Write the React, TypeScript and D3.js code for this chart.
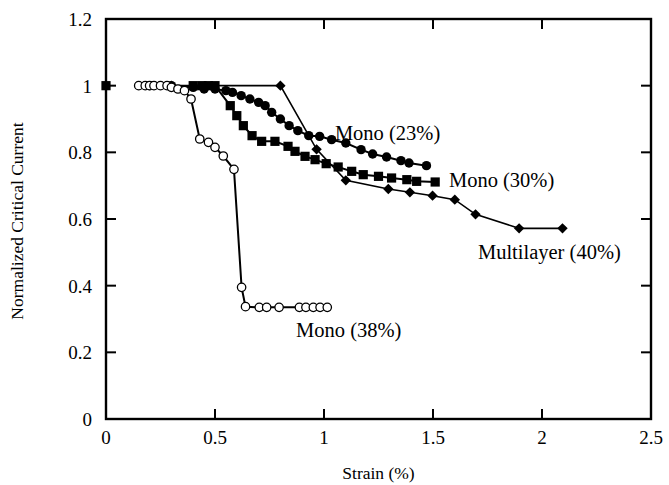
import React from "react";
import * as d3 from "d3";

const xTicks = [0, 0.5, 1, 1.5, 2, 2.5];
const yTicks = [0, 0.2, 0.4, 0.6, 0.8, 1, 1.2];
const xTickLabels = ["0", "0.5", "1", "1.5", "2", "2.5"];
const yTickLabels = ["0", "0.2", "0.4", "0.6", "0.8", "1", "1.2"];

const mono38X = [0.15, 0.18, 0.2, 0.22, 0.25, 0.28, 0.3, 0.33, 0.36, 0.39, 0.43, 0.47, 0.5, 0.538, 0.587, 0.622, 0.64, 0.703, 0.737, 0.794, 0.887, 0.917, 0.951, 0.982, 1.015];
const mono38Y = [1, 1, 1, 1, 1, 1, 0.995, 0.99, 0.985, 0.96, 0.84, 0.83, 0.815, 0.789, 0.749, 0.395, 0.337, 0.335, 0.335, 0.335, 0.335, 0.335, 0.335, 0.335, 0.335];

const mono23X = [0.2, 0.3, 0.4, 0.45, 0.5, 0.55, 0.58, 0.62, 0.66, 0.7, 0.73, 0.76, 0.8, 0.84, 0.88, 0.93, 0.98, 1.035, 1.1, 1.17, 1.223, 1.287, 1.353, 1.39, 1.47];
const mono23Y = [1, 1, 0.995, 0.99, 0.99, 0.985, 0.98, 0.97, 0.96, 0.95, 0.94, 0.92, 0.9, 0.88, 0.865, 0.85, 0.848, 0.838, 0.828, 0.808, 0.795, 0.786, 0.775, 0.768, 0.76];

const mono30X = [0.4, 0.44, 0.47, 0.5, 0.57, 0.6, 0.63, 0.67, 0.714, 0.775, 0.835, 0.867, 0.913, 0.959, 1.01, 1.065, 1.127, 1.18, 1.25, 1.31, 1.38, 1.425, 1.51];
const mono30Y = [1, 1, 1, 1, 0.94, 0.91, 0.88, 0.85, 0.833, 0.833, 0.818, 0.803, 0.788, 0.778, 0.766, 0.756, 0.743, 0.733, 0.728, 0.723, 0.718, 0.713, 0.711];

const multiX = [0.3, 0.8, 0.966, 1.1, 1.295, 1.394, 1.498, 1.6, 1.695, 1.895, 2.094];
const multiY = [1, 1, 0.809, 0.716, 0.69, 0.68, 0.67, 0.658, 0.614, 0.572, 0.572];

const originX = [0];
const originY = [1];

const labels = ["Mono (23%)", "Mono (30%)", "Multilayer (40%)", "Mono (38%)"];
const labelX = [1.05, 1.573, 1.706, 0.872];
const labelY = [0.838, 0.696, 0.48, 0.246];

const W = 669, H = 485;
const left = 106, right = 651, top = 19, bottom = 419;
const font = "'Liberation Serif', 'Times New Roman', serif";

export default function App() {
  const x = d3.scaleLinear().domain([0, 2.5]).range([left, right]);
  const y = d3.scaleLinear().domain([0, 1.2]).range([bottom, top]);
  const line = d3.line<[number, number]>().x(d => x(d[0])).y(d => y(d[1]));
  const pts = (xs: number[], ys: number[]) => xs.map((v, i) => [v, ys[i]] as [number, number]);
  const m23 = pts(mono23X, mono23Y);
  const m30 = pts(mono30X, mono30Y);
  const m38 = pts(mono38X, mono38Y);
  const ml = pts(multiX, multiY);
  const org = pts(originX, originY);
  const tl = 10;
  return (
    <svg width={W} height={H} style={{ position: "absolute", left: 0, top: 0, background: "#fff" }} fontFamily={font}>
      <rect x={left} y={top} width={right - left} height={bottom - top} fill="none" stroke="#000" strokeWidth={2.4} />
      {xTicks.map((t, i) => (
        <g key={"xt" + i}>
          <line x1={x(t)} x2={x(t)} y1={bottom} y2={bottom - tl} stroke="#000" strokeWidth={2} />
          <line x1={x(t)} x2={x(t)} y1={top} y2={top + tl} stroke="#000" strokeWidth={2} />
          <text x={x(t)} y={bottom + 25} fontSize={19} textAnchor="middle">{xTickLabels[i]}</text>
        </g>
      ))}
      {yTicks.map((t, i) => (
        <g key={"yt" + i}>
          <line x1={left} x2={left + tl} y1={y(t)} y2={y(t)} stroke="#000" strokeWidth={2} />
          <line x1={right} x2={right - tl} y1={y(t)} y2={y(t)} stroke="#000" strokeWidth={2} />
          <text x={left - 14} y={y(t) + 7} fontSize={19} textAnchor="end">{yTickLabels[i]}</text>
        </g>
      ))}
      <text x={(left + right) / 2} y={479} fontSize={17.5} textAnchor="middle">Strain (%)</text>
      <text transform={`translate(23,${(top + bottom) / 2 + 2}) rotate(-90)`} fontSize={17.5} textAnchor="middle">Normalized Critical Current</text>

      <path d={line(ml) || ""} fill="none" stroke="#000" strokeWidth={1.6} />
      <path d={line(m30) || ""} fill="none" stroke="#000" strokeWidth={2} />
      <path d={line(m23) || ""} fill="none" stroke="#000" strokeWidth={2} />
      <path d={line(m38) || ""} fill="none" stroke="#000" strokeWidth={2} />

      {ml.map((d, i) => {
        const cx = x(d[0]), cy = y(d[1]), s = 5.2;
        return <path key={"ml" + i} d={`M${cx},${cy - s}L${cx + s},${cy}L${cx},${cy + s}L${cx - s},${cy}Z`} fill="#000" />;
      })}
      {m30.concat(org).map((d, i) => (
        <rect key={"m30" + i} x={x(d[0]) - 4.6} y={y(d[1]) - 4.6} width={9.2} height={9.2} fill="#000" />
      ))}
      {m23.map((d, i) => (
        <circle key={"m23" + i} cx={x(d[0])} cy={y(d[1])} r={4.7} fill="#000" />
      ))}
      {m38.map((d, i) => (
        <circle key={"m38" + i} cx={x(d[0])} cy={y(d[1])} r={4.2} fill="#fff" stroke="#000" strokeWidth={1.3} />
      ))}

      {labels.map((l, i) => (
        <text key={"lb" + i} x={x(labelX[i])} y={y(labelY[i])} fontSize={20.5}>{l}</text>
      ))}
    </svg>
  );
}
